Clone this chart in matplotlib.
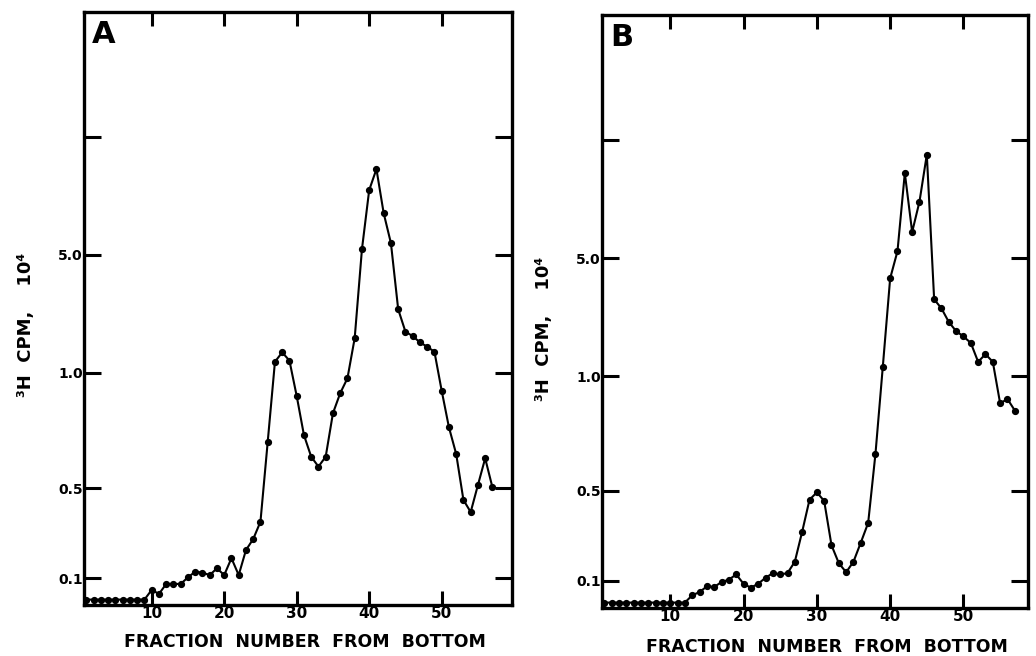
import numpy as np
import matplotlib.pyplot as plt

# sucrose gradient profiles, 3H CPM (x 10^4) per fraction
fractions_a = np.arange(1, 58)
cpm_a = [0.02, 0.02, 0.02, 0.02, 0.02, 0.02, 0.02, 0.02, 0.02,
         0.056, 0.041, 0.078, 0.078, 0.078, 0.103, 0.128, 0.124, 0.113, 0.143,
         0.113, 0.188, 0.113, 0.224, 0.273, 0.350, 0.70, 1.38, 1.70, 1.42,
         0.90, 0.73, 0.636, 0.593, 0.636, 0.825, 0.912, 0.977, 2.18, 5.24,
         7.75, 8.64, 6.77, 5.50, 3.16, 2.40, 2.25, 2.04, 1.89, 1.72,
         0.923, 0.764, 0.648, 0.447, 0.393, 0.513, 0.629, 0.503]

fractions_b = np.arange(1, 58)
cpm_b = [0.02, 0.02, 0.02, 0.02, 0.02, 0.02, 0.02, 0.02, 0.02, 0.02, 0.02, 0.02,
         0.047, 0.059, 0.080, 0.078, 0.096, 0.106, 0.129, 0.090, 0.075, 0.090,
         0.114, 0.135, 0.129, 0.135, 0.186, 0.319, 0.461, 0.494, 0.456, 0.259,
         0.179, 0.139, 0.186, 0.271, 0.358, 0.663, 1.32, 4.31, 5.29, 8.60,
         6.10, 7.39, 9.38, 3.60, 3.29, 2.83, 2.52, 2.34, 2.12, 1.48, 1.74,
         1.48, 0.881, 0.90, 0.85]

x_ticks = [10, 20, 30, 40, 50]
y_ticks = [0.1, 0.5, 1.0, 5.0, 10.0]
y_ticklabels = ["0.1", "0.5", "1.0", "5.0", ""]

# the original axis is neither linear nor log: piecewise spacing of the ticks
scale_vals = [0.0, 0.1, 0.5, 1.0, 5.0, 10.0, 20.0]
scale_pos = [-27, 0, 90, 205, 323, 441, 566]


def fwd(v):
    return np.interp(v, scale_vals, scale_pos)


def inv(p):
    return np.interp(p, scale_pos, scale_vals)


plt.rcParams['font.family'] = 'DejaVu Sans'
plt.rcParams['font.weight'] = 'bold'

fig = plt.figure(figsize=(10.36, 6.56), dpi=100)
ax_a = fig.add_axes([84/1036, 51/656, 428/1036, 593/656])
ax_b = fig.add_axes([602/1036, 48/656, 426/1036, 593/656])

panels = [(ax_a, fractions_a, cpm_a, "A", (0.66, 59.7), (-0.114, 0.472), (0.516, -0.047)),
          (ax_b, fractions_b, cpm_b, "B", (0.7, 58.8), (-0.115, 0.47), (0.528, -0.051))]

for ax, x, y, letter, xlim, ylab_xy, xlab_xy in panels:
    ax.plot(x, y, color='black', lw=1.5, marker='o', markersize=4.2)
    ax.set_yscale('function', functions=(fwd, inv))
    ax.set_ylim(0, 20)
    ax.set_xlim(*xlim)
    ax.set_xticks(x_ticks)
    ax.set_xticklabels([str(t) for t in x_ticks], fontsize=11, fontweight='bold')
    ax.set_yticks(y_ticks)
    ax.set_yticklabels(y_ticklabels, fontsize=10, fontweight='bold')
    ax.yaxis.set_minor_locator(plt.NullLocator())
    ax.tick_params(axis='y', direction='in', length=12, width=2.2, right=True, pad=1)
    ax.tick_params(axis='x', direction='in', length=10, width=2.2, top=True, pad=1)
    for s in ax.spines.values():
        s.set_linewidth(2.4)
    ax.set_ylabel("³H  CPM,    10⁴", fontsize=13, fontweight='bold')
    ax.yaxis.set_label_coords(*ylab_xy)
    ax.set_xlabel("FRACTION  NUMBER  FROM  BOTTOM", fontsize=12.5, fontweight='bold')
    ax.xaxis.set_label_coords(*xlab_xy)
    ax.text(0.019, 0.986, letter, transform=ax.transAxes, fontsize=22,
            fontweight='heavy', va='top', ha='left')

fig.savefig('out.png', dpi=100)
